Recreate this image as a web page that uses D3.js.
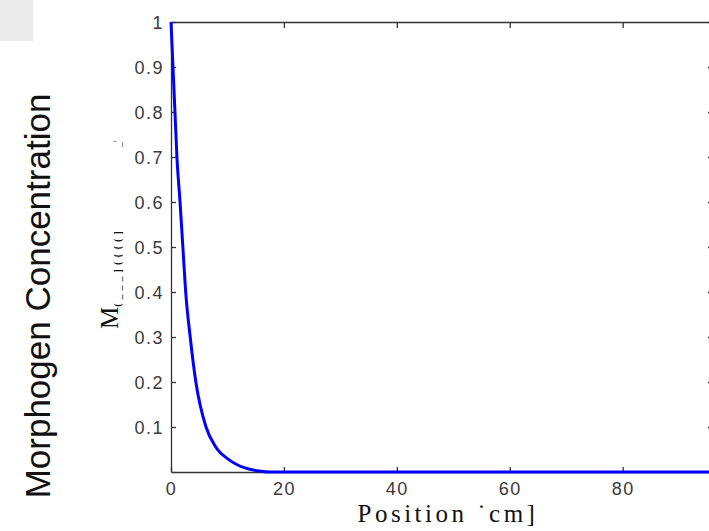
<!DOCTYPE html>
<html>
<head>
<meta charset="utf-8">
<script src="https://cdn.jsdelivr.net/npm/d3@7"></script>
<style>
  body { margin: 0; background: #fff; }
  svg { display: block; }
  .tick text { font-family: "Liberation Sans", Arial, sans-serif; font-size: 18px; fill: #3a3a3a; letter-spacing: 1.5px; }
</style>
</head>
<body>
<div id="chart"></div>
<script>
// values
var position = [0, 0.35, 0.7, 1.05, 1.6, 2.1, 2.6, 3.4, 4.4, 6.2, 7.9, 10.3, 13.1, 15.8, 17.5, 20, 40, 60, 80, 96];
var concentration = [1, 0.9, 0.8, 0.7, 0.6, 0.5, 0.4, 0.3, 0.2, 0.1, 0.056, 0.027, 0.009, 0.002, 0, 0, 0, 0, 0, 0];
var xTicks = [0, 20, 40, 60, 80];
var yTicks = [0.1, 0.2, 0.3, 0.4, 0.5, 0.6, 0.7, 0.8, 0.9, 1];
var xDomain = [0, 96];
var yDomain = [0, 1];

var svgWidth = 709;
var svgHeight = 531;

var margin = { top: 22, right: -4, bottom: 59, left: 171 };
var width = svgWidth - margin.left - margin.right;
var height = svgHeight - margin.top - margin.bottom;

var svg = d3.select("#chart")
  .append("svg")
  .attr("width", svgWidth)
  .attr("height", svgHeight);

// grey patch in the corner
svg.append("rect")
  .attr("x", 0).attr("y", 0)
  .attr("width", 33).attr("height", 41)
  .attr("fill", "#ebebeb");

var chartGroup = svg.append("g")
  .attr("transform", `translate(${margin.left}, ${margin.top})`);

var xScale = d3.scaleLinear().domain(xDomain).range([0, width]);
var yScale = d3.scaleLinear().domain(yDomain).range([height, 0]);

// box axes, ticks pointing inward
function styleAxis(g) {
  g.select(".domain").attr("stroke", "#333").attr("stroke-width", 1.3);
  g.selectAll(".tick line").attr("stroke", "#333").attr("stroke-width", 1.3);
}

chartGroup.append("g")
  .attr("transform", `translate(0, ${height})`)
  .call(d3.axisBottom(xScale).tickValues(xTicks).tickSizeInner(-5).tickSizeOuter(0).tickPadding(10).tickFormat(d3.format("d")))
  .call(styleAxis);

chartGroup.append("g")
  .call(d3.axisTop(xScale).tickValues(xTicks).tickSizeInner(-6).tickSizeOuter(0).tickFormat(""))
  .call(styleAxis);

chartGroup.append("g")
  .call(d3.axisLeft(yScale).tickValues(yTicks).tickSizeInner(-5).tickSizeOuter(0).tickPadding(7).tickFormat(d => d === 1 ? "1" : d3.format(".1f")(d)))
  .call(styleAxis)
  .selectAll(".tick text").attr("dy", "0.35em");

chartGroup.append("g")
  .attr("transform", `translate(${width}, 0)`)
  .call(d3.axisRight(yScale).tickValues(yTicks).tickSizeInner(-5).tickSizeOuter(0).tickFormat(""))
  .call(styleAxis);

// profile line
var line = d3.line()
  .x((d, i) => xScale(position[i]))
  .y(d => yScale(d))
  .curve(d3.curveMonotoneX);

chartGroup.append("path")
  .datum(concentration)
  .attr("d", line)
  .attr("fill", "none")
  .attr("stroke", "#0000ff")
  .attr("stroke-width", 3);

// axis labels
svg.append("text")
  .attr("x", 448)
  .attr("y", 522)
  .attr("text-anchor", "middle")
  .style("font-family", "'Liberation Serif', 'DejaVu Serif', serif")
  .style("font-size", "25px")
  .style("letter-spacing", "3.5px")
  .style("fill", "#111")
  .text("Position ˙cm]");

var mLabel = svg.append("text")
  .attr("transform", "translate(118, 329) rotate(-90)")
  .style("font-family", "'Liberation Serif', 'DejaVu Serif', serif")
  .style("fill", "#111");
mLabel.append("tspan").style("font-size", "25px").text("M");
mLabel.append("tspan").attr("dy", 3).style("font-size", "10px").style("font-weight", "bold").style("letter-spacing", "4px").text("(___]({{(]");
mLabel.append("tspan").attr("dx", 80).style("font-size", "10px").text("_'");

svg.append("text")
  .attr("transform", "translate(50, 296) rotate(-90)")
  .attr("text-anchor", "middle")
  .style("font-family", "'Liberation Sans', Arial, sans-serif")
  .style("font-size", "35px")
  .style("fill", "#111")
  .text("Morphogen Concentration");
</script>
</body>
</html>
